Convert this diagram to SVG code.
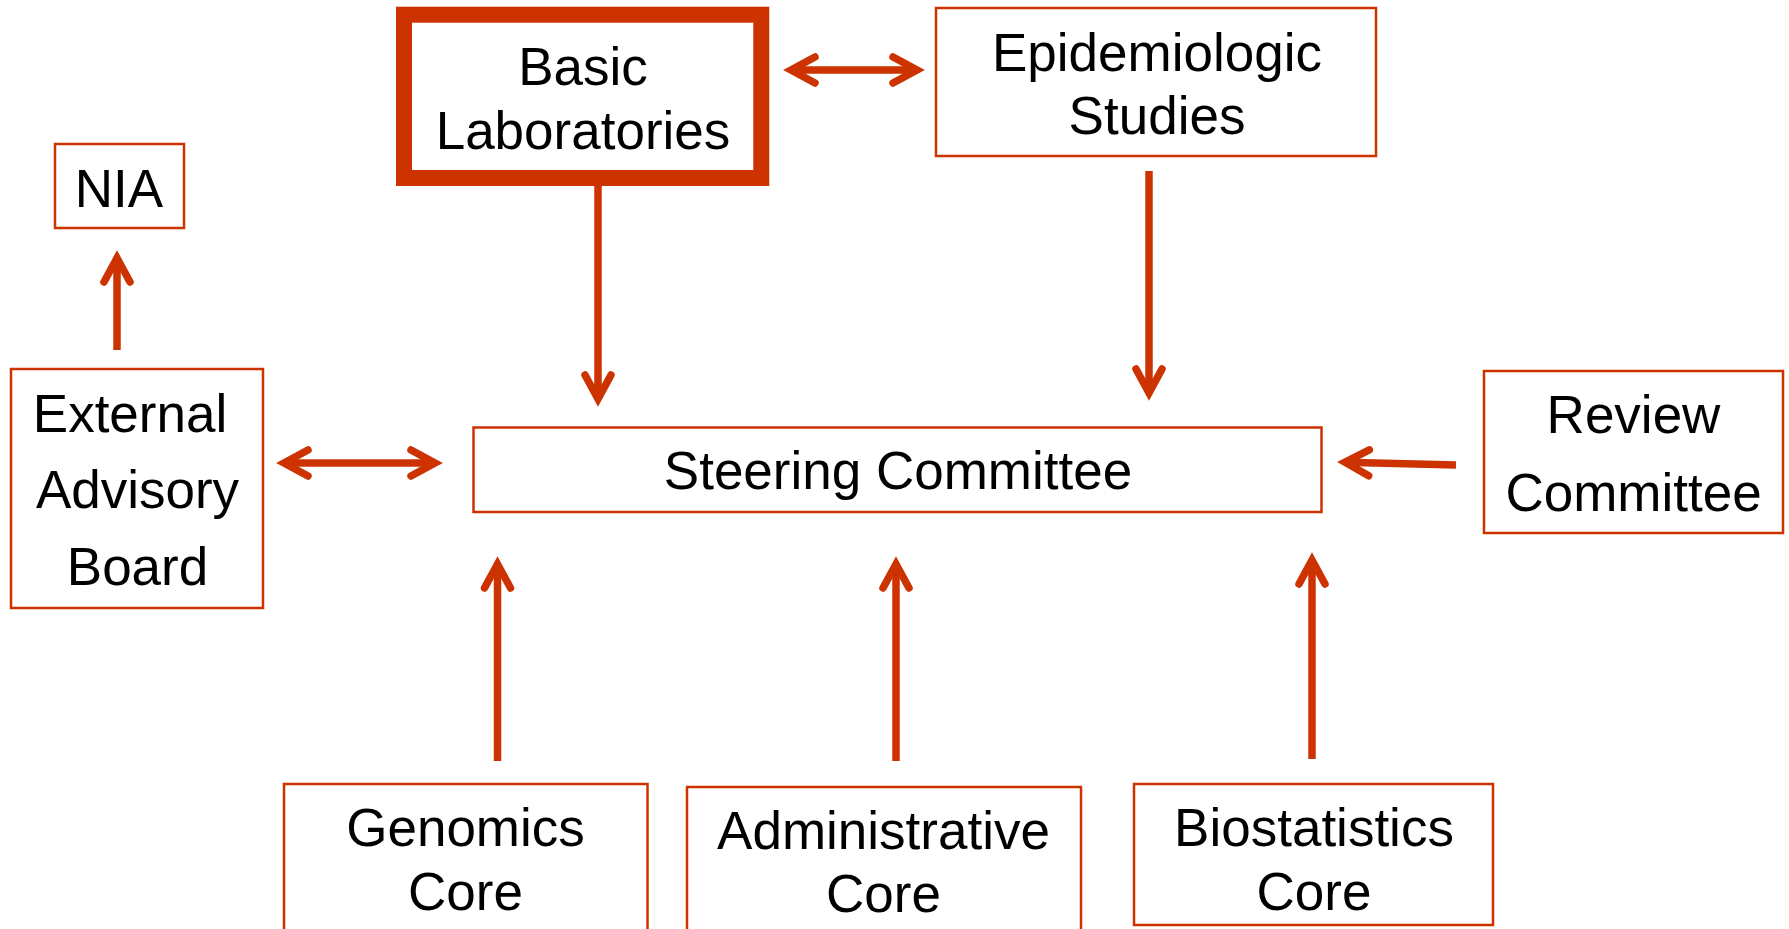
<svg xmlns="http://www.w3.org/2000/svg" width="1789" height="929" viewBox="0 0 1789 929">
<style>
.box{fill:#ffffff;stroke:#cc3300;stroke-width:2.5}
.thick{fill:#ffffff;stroke:#cc3300;stroke-width:16}
.t{font-family:"Liberation Sans",Arial,sans-serif;font-size:53px;fill:#000000;text-anchor:middle}
.c{stroke:#cc3300;stroke-width:7.5;fill:none;stroke-linecap:butt}
</style>
<defs>
<marker id="ah" markerUnits="userSpaceOnUse" viewBox="-40 -25 50 50" refX="0" refY="0" markerWidth="50" markerHeight="50" orient="auto-start-reverse" overflow="visible">
<path d="M -24 -13 L 0 0 L -24 13" fill="none" stroke="#cc3300" stroke-width="7.5" stroke-linecap="round" stroke-linejoin="miter" stroke-miterlimit="10"/>
</marker>
</defs>
<rect width="1789" height="929" fill="#ffffff"/>
<g id="connectors">
<line class="c" x1="117" y1="350" x2="117" y2="258" marker-end="url(#ah)"/>
<line class="c" x1="598" y1="185" x2="598" y2="399" marker-end="url(#ah)"/>
<line class="c" x1="1149" y1="171" x2="1149" y2="393" marker-end="url(#ah)"/>
<line class="c" x1="791" y1="70" x2="917" y2="70" marker-start="url(#ah)" marker-end="url(#ah)"/>
<line class="c" x1="284" y1="463" x2="435" y2="463" marker-start="url(#ah)" marker-end="url(#ah)"/>
<line class="c" x1="1456" y1="465" x2="1345" y2="462.2" marker-end="url(#ah)"/>
<line class="c" x1="497.5" y1="761" x2="497.5" y2="564" marker-end="url(#ah)"/>
<line class="c" x1="896" y1="761" x2="896" y2="564" marker-end="url(#ah)"/>
<line class="c" x1="1312" y1="759" x2="1312" y2="560" marker-end="url(#ah)"/>
</g>
<g id="basic-laboratories">
<rect class="thick" x="404" y="14.7" width="357.3" height="163.3"/>
<text class="t" x="583" y="85">Basic</text>
<text class="t" x="583" y="148.5">Laboratories</text>
</g>
<g id="epidemiologic-studies">
<rect class="box" x="936" y="8" width="440" height="148"/>
<text class="t" x="1157" y="70.5">Epidemiologic</text>
<text class="t" x="1157" y="133.5">Studies</text>
</g>
<g id="nia">
<rect class="box" x="55" y="144" width="129" height="84"/>
<text class="t" x="119" y="207">NIA</text>
</g>
<g id="external-advisory-board">
<rect class="box" x="11" y="369" width="252" height="239"/>
<text class="t" x="130" y="432">External</text>
<text class="t" x="137.5" y="508">Advisory</text>
<text class="t" x="137.5" y="585">Board</text>
</g>
<g id="steering-committee">
<rect class="box" x="473.5" y="427.5" width="848" height="84.5"/>
<text class="t" x="898" y="489">Steering Committee</text>
</g>
<g id="review-committee">
<rect class="box" x="1484" y="371" width="299" height="162"/>
<text class="t" x="1633.5" y="433">Review</text>
<text class="t" x="1633.5" y="511">Committee</text>
</g>
<g id="genomics-core">
<rect class="box" x="284" y="784" width="363.5" height="200"/>
<text class="t" x="465.5" y="846">Genomics</text>
<text class="t" x="465.5" y="910">Core</text>
</g>
<g id="administrative-core">
<rect class="box" x="687" y="787" width="394" height="200"/>
<text class="t" x="883.5" y="848.5">Administrative</text>
<text class="t" x="883.5" y="912">Core</text>
</g>
<g id="biostatistics-core">
<rect class="box" x="1134" y="784" width="359" height="141"/>
<text class="t" x="1314" y="846">Biostatistics</text>
<text class="t" x="1314" y="910">Core</text>
</g>
</svg>
